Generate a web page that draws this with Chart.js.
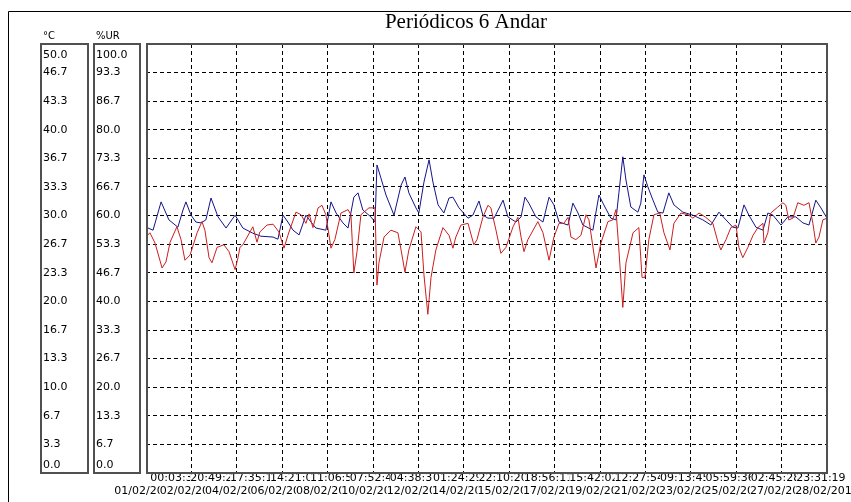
<!DOCTYPE html>
<html>
<head>
<meta charset="utf-8">
<title>Periódicos 6 Andar</title>
<script src="https://cdn.jsdelivr.net/npm/chart.js@4/dist/chart.umd.min.js"></script>
<style>
    html, body { margin: 0; padding: 0; background: #fff; }
    canvas { display: block; }
</style>
</head>
<body>
<canvas id="chart" width="851" height="502"></canvas>
<script>
const chartTitle = 'Periódicos 6 Andar';
const tempUnit = '°C';
const humUnit = '%UR';

// box labels, bottom to top
const tempTicks = ['0.0', '3.3', '6.7', '10.0', '13.3', '16.7', '20.0', '23.3',
    '26.7', '30.0', '33.3', '36.7', '40.0', '43.3', '46.7', '50.0'];
const humTicks = ['0.0', '6.7', '13.3', '20.0', '26.7', '33.3', '40.0', '46.7',
    '53.3', '60.0', '66.7', '73.3', '80.0', '86.7', '93.3', '100.0'];

const timeLabels = ['00:03:30', '20:49:21', '17:35:12', '14:21:04', '11:06:55', '07:52:46',
    '04:38:37', '01:24:29', '22:10:20', '18:56:11', '15:42:02', '12:27:54',
    '09:13:45', '05:59:36', '02:45:28', '23:31:19'];
const dateLabels = ['01/02/2011', '02/02/2011', '04/02/2011', '06/02/2011', '08/02/2011',
    '10/02/2011', '12/02/2011', '14/02/2011', '15/02/2011', '17/02/2011', '19/02/2011',
    '21/02/2011', '23/02/2011', '25/02/2011', '27/02/2011', '28/02/2011'];

// days since 01/02 00:03:30
const spanDays = 27.98;

// temperature (red, °C)
const tempDays = [0, 0.16, 0.37, 0.66, 0.82, 0.99, 1.27, 1.44, 1.60, 1.81,
    2.10, 2.30, 2.42, 2.59, 2.71, 2.92, 3.20, 3.41, 3.66, 3.78,
    3.86, 3.98, 4.39, 4.56, 4.68, 4.97, 5.22, 5.46, 5.67, 5.83,
    6.16, 6.37, 6.57, 6.70, 6.86, 7.07, 7.23, 7.39, 7.60, 7.76,
    8.01, 8.30, 8.42, 8.54, 8.67, 8.83, 9.16, 9.41, 9.49, 9.57,
    9.78, 10.06, 10.35, 10.48, 10.64, 10.80, 11.09, 11.30, 11.42, 11.58,
    11.71, 11.91, 12.20, 12.45, 12.61, 12.73, 12.94, 13.23, 13.47, 13.60,
    13.84, 14.05, 14.17, 14.38, 14.58, 14.79, 15.08, 15.28, 15.41, 15.53,
    15.69, 16.10, 16.31, 16.56, 16.76, 16.97, 17.17, 17.34, 17.46, 17.66,
    17.87, 18.08, 18.20, 18.49, 18.69, 18.98, 19.18, 19.31, 19.43, 19.59,
    19.72, 20.01, 20.25, 20.38, 20.50, 20.66, 20.87, 21.11, 21.28, 21.53,
    21.69, 21.98, 22.27, 22.47, 22.72, 23.00, 23.29, 23.50, 23.62, 23.83,
    24.03, 24.24, 24.36, 24.52, 24.73, 24.94, 25.14, 25.35, 25.39, 25.55,
    25.67, 25.96, 26.17, 26.29, 26.41, 26.58, 26.78, 27.03, 27.24, 27.40,
    27.52, 27.65, 27.81, 27.98];
const tempValues = [27.5, 28.0, 26.8, 23.9, 24.6, 26.9, 28.7, 27.2, 24.8, 25.4,
    28.0, 29.3, 28.3, 25.1, 24.5, 26.3, 26.6, 25.8, 23.7, 25.1,
    26.3, 26.6, 28.7, 26.9, 28.1, 28.9, 29.0, 28.1, 26.2, 27.7,
    30.4, 30.1, 29.1, 30.2, 28.6, 30.9, 31.2, 30.1, 26.2, 27.2,
    30.3, 30.7, 30.1, 23.3, 25.8, 30.1, 30.9, 30.9, 21.9, 24.5,
    27.5, 28.3, 28.0, 26.0, 23.4, 26.0, 28.7, 28.1, 23.1, 18.5,
    22.8, 26.0, 28.6, 27.7, 26.2, 27.5, 28.9, 29.1, 26.6, 27.2,
    29.8, 31.2, 30.9, 28.3, 25.6, 26.3, 28.7, 29.8, 27.5, 25.8,
    27.2, 29.3, 28.0, 24.8, 27.5, 29.1, 29.1, 29.8, 27.5, 27.2,
    27.7, 30.1, 29.5, 23.9, 26.8, 29.3, 29.5, 30.7, 26.0, 19.3,
    24.5, 28.0, 28.6, 22.8, 22.8, 27.2, 30.1, 30.3, 28.0, 26.0,
    29.1, 30.3, 30.1, 29.7, 30.3, 29.8, 29.1, 26.9, 26.0, 27.2,
    28.6, 28.9, 26.3, 25.1, 26.3, 27.7, 28.6, 29.1, 26.8, 28.0,
    30.3, 31.0, 31.5, 31.2, 29.5, 29.7, 31.5, 31.2, 31.5, 29.1,
    26.8, 27.5, 29.5, 29.7];

// relative humidity (blue, %UR)
const humDays = [0, 0.29, 0.62, 0.94, 1.31, 1.52, 1.64, 1.85, 2.05, 2.26,
    2.46, 2.67, 2.96, 3.29, 3.66, 3.98, 4.39, 4.72, 5.22, 5.42,
    5.63, 5.83, 6.04, 6.29, 6.57, 6.78, 6.98, 7.39, 7.60, 7.81,
    8.09, 8.30, 8.54, 8.71, 8.91, 9.24, 9.41, 9.49, 9.65, 9.86,
    10.19, 10.48, 10.64, 10.80, 11.09, 11.21, 11.42, 11.63, 11.79, 12.00,
    12.24, 12.45, 12.61, 12.86, 13.23, 13.43, 13.68, 13.84, 14.05, 14.30,
    14.67, 14.87, 15.20, 15.41, 15.57, 15.73, 16.02, 16.31, 16.56, 16.76,
    16.97, 17.34, 17.54, 17.75, 17.95, 18.36, 18.61, 18.81, 19.10, 19.31,
    19.43, 19.59, 19.72, 19.92, 20.21, 20.33, 20.46, 20.62, 20.83, 21.03,
    21.24, 21.48, 21.69, 22.06, 22.47, 22.88, 23.21, 23.54, 23.83, 24.11,
    24.32, 24.57, 24.77, 25.06, 25.35, 25.55, 25.76, 26.09, 26.37, 26.70,
    26.99, 27.24, 27.52, 27.73, 27.98];
const humValues = [57.3, 56.6, 63.2, 59.0, 57.3, 61.3, 63.2, 60.1, 58.5, 58.3,
    59.0, 64.1, 59.7, 57.1, 60.1, 57.1, 55.9, 55.2, 55.0, 54.5,
    60.1, 58.5, 56.6, 55.5, 60.1, 58.5, 57.1, 56.6, 63.2, 60.6,
    58.3, 57.1, 64.3, 65.3, 61.3, 59.7, 58.5, 71.8, 68.8, 64.8,
    60.1, 67.1, 69.0, 65.3, 61.8, 60.6, 67.8, 73.0, 67.8, 62.5,
    60.6, 64.1, 64.3, 61.8, 59.4, 60.1, 63.4, 60.1, 59.4, 59.4,
    63.6, 59.7, 58.5, 59.7, 64.3, 62.9, 59.7, 58.5, 64.3, 62.5,
    58.5, 57.8, 62.9, 60.6, 57.8, 56.6, 64.8, 62.5, 59.4, 59.0,
    65.3, 73.7, 68.3, 62.0, 60.8, 62.9, 69.5, 66.7, 63.6, 60.8,
    60.6, 65.3, 62.5, 60.8, 60.1, 59.0, 57.8, 60.8, 59.0, 57.3,
    57.1, 62.5, 60.1, 57.3, 56.6, 60.6, 60.1, 57.8, 59.7, 59.7,
    58.3, 57.8, 63.6, 61.8, 59.4];

const tickFont = { family: 'DejaVu Sans', size: 11, lineHeight: 1 };
const gridDivisions = 15;

/**
 * Label ticks in the side boxes; first and last are pulled inside the box
 */
function boxTicks(scale, labels, max) {
    const last = labels.length - 1;
    scale.ticks = labels.map((_, k) => {
        let v = k * max / last;
        if (k === 0) v = max * 0.019;
        if (k === last) v = max * 0.974;
        return { value: v };
    });
}

function gridTicks(scale, max) {
    const ticks = [];
    for (let k = 1; k < gridDivisions; k++) ticks.push({ value: k * max / gridDivisions });
    scale.ticks = ticks;
}

// the logger pushes each time label right so it starts after the previous one
function timeTicks(scale) {
    const step = spanDays / gridDivisions;
    let prev = -Infinity;
    scale.ticks = timeLabels.map((_, k) => {
        let v = k === 0 ? 1.19 : Math.max(k * step - 0.25, prev + 1.64);
        prev = v;
        return { value: v };
    });
}

// labels may run past the plot; don't let them squeeze the chart area
function noPadding(scale) {
    scale.paddingLeft = 0;
    scale.paddingRight = 0;
    scale.paddingTop = 0;
    scale.paddingBottom = 0;
}

const framePlugin = {
    id: 'frame',
    beforeDraw(chart) {
        const ctx = chart.ctx;
        ctx.save();
        ctx.fillStyle = '#fff';
        ctx.fillRect(0, 0, chart.width, chart.height);
        ctx.restore();
    },
    afterDraw(chart) {
        const { ctx, chartArea: a, scales } = chart;
        ctx.save();

        // outer window frame
        ctx.strokeStyle = '#000';
        ctx.lineWidth = 1;
        ctx.beginPath();
        ctx.moveTo(8.5, chart.height);
        ctx.lineTo(8.5, 11.5);
        ctx.lineTo(chart.width, 11.5);
        ctx.stroke();

        // label boxes and plot frame
        ctx.strokeStyle = '#505050';
        ctx.lineWidth = 2;
        const h = a.bottom - a.top;
        ctx.strokeRect(scales.yT.left - 2, a.top, scales.yT.right - scales.yT.left + 2, h);
        ctx.strokeRect(scales.yH.left - 2, a.top, scales.yH.right - scales.yH.left - 4, h);
        ctx.strokeRect(a.left + 1, a.top, a.right - a.left - 1, h);

        // units
        ctx.fillStyle = '#000';
        ctx.font = '10px "DejaVu Sans"';
        ctx.textBaseline = 'middle';
        ctx.textAlign = 'left';
        ctx.fillText(tempUnit, scales.yT.left, 36);
        ctx.fillText(humUnit, scales.yH.left, 36);

        // title
        ctx.font = '21px "Liberation Serif"';
        ctx.textAlign = 'center';
        ctx.textBaseline = 'alphabetic';
        ctx.fillText(chartTitle, 466, 28);
        ctx.restore();
    }
};

const labelAxis = {
    type: 'linear',
    position: 'bottom',
    min: 0,
    max: spanDays,
    bounds: 'data',
    grid: { display: false, drawTicks: false },
    border: { display: false },
    ticks: {
        font: tickFont,
        color: '#000',
        padding: 0,
        autoSkip: false,
        maxRotation: 0,
        minRotation: 0,
        showLabelBackdrop: true,
        backdropColor: '#fff',
        backdropPadding: 0
    }
};

new Chart(document.getElementById('chart'), {
    type: 'line',
    data: {
        datasets: [{
            label: 'Temperatura',
            data: tempDays.map((d, i) => ({ x: d, y: tempValues[i] })),
            borderColor: '#cc1e1e',
            borderWidth: 1,
            pointRadius: 0,
            tension: 0,
            xAxisID: 'x',
            yAxisID: 'yT'
        }, {
            label: 'Umidade',
            data: humDays.map((d, i) => ({ x: d, y: humValues[i] })),
            borderColor: '#14148c',
            borderWidth: 1,
            pointRadius: 0,
            tension: 0,
            xAxisID: 'x',
            yAxisID: 'yH'
        }]
    },
    options: {
        responsive: false,
        animation: false,
        layout: {
            autoPadding: false,
            padding: { left: 43, right: 24, top: 44, bottom: 0 }
        },
        plugins: {
            legend: { display: false },
            title: { display: false },
            tooltip: { enabled: false }
        },
        scales: {
            x: {
                type: 'linear',
                position: 'bottom',
                weight: 0,
                min: 0,
                max: spanDays,
                bounds: 'data',
                ticks: { display: false },
                grid: { color: '#000', lineWidth: 1, drawTicks: false },
                border: { display: false, dash: [4, 3] },
                afterBuildTicks: (s) => gridTicks(s, spanDays),
                afterFit: (s) => { s.height = 0; noPadding(s); }
            },
            xt: {
                ...labelAxis,
                weight: 1,
                ticks: { ...labelAxis.ticks, callback: (v, i) => timeLabels[i] },
                afterBuildTicks: timeTicks,
                afterFit: (s) => { s.height = 13; noPadding(s); }
            },
            xd: {
                ...labelAxis,
                weight: 2,
                ticks: { ...labelAxis.ticks, callback: (v, i) => dateLabels[i] },
                afterBuildTicks: (s) => {
                    s.ticks = dateLabels.map((_, k) => ({ value: k * spanDays / gridDivisions }));
                },
                afterFit: (s) => { s.height = 16; noPadding(s); }
            },
            y: {
                type: 'linear',
                position: 'right',
                weight: 0,
                min: 0,
                max: 50,
                bounds: 'data',
                ticks: { display: false },
                grid: { color: '#000', lineWidth: 1, drawTicks: false },
                border: { display: false, dash: [4, 3] },
                afterBuildTicks: (s) => gridTicks(s, 50),
                afterFit: (s) => { s.width = 0; noPadding(s); }
            },
            yT: {
                type: 'linear',
                position: 'left',
                weight: 3,
                min: 0,
                max: 50,
                bounds: 'data',
                grid: { display: false, drawTicks: false },
                border: { display: false },
                ticks: {
                    font: tickFont,
                    color: '#000',
                    crossAlign: 'far',
                    autoSkip: false,
                    callback: (v, i) => tempTicks[i]
                },
                afterBuildTicks: (s) => boxTicks(s, tempTicks, 50),
                afterFit: (s) => { s.width = 45; noPadding(s); }
            },
            gap: {
                type: 'linear',
                position: 'left',
                weight: 2,
                min: 0,
                max: 1,
                grid: { display: false, drawTicks: false },
                border: { display: false },
                ticks: { display: false },
                afterFit: (s) => { s.width = 8; noPadding(s); }
            },
            yH: {
                type: 'linear',
                position: 'left',
                weight: 1,
                min: 0,
                max: 100,
                bounds: 'data',
                grid: { display: false, drawTicks: false },
                border: { display: false },
                ticks: {
                    font: tickFont,
                    color: '#000',
                    crossAlign: 'far',
                    autoSkip: false,
                    callback: (v, i) => humTicks[i]
                },
                afterBuildTicks: (s) => boxTicks(s, humTicks, 100),
                afterFit: (s) => { s.width = 50; noPadding(s); }
            }
        }
    },
    plugins: [framePlugin]
});
</script>
</body>
</html>
